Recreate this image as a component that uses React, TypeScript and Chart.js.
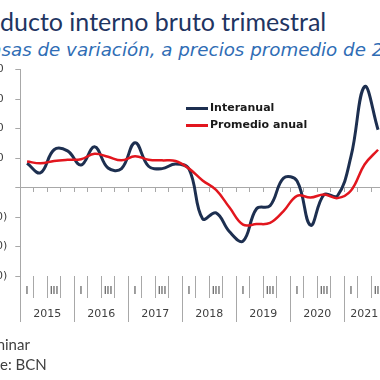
import React, { useEffect, useRef } from "react";
import { Chart, registerables } from "chart.js";

Chart.register(...registerables);

// ---- data ----
const CATEGORIES = [
  "2015-I", "2015-II", "2015-III", "2015-IV",
  "2016-I", "2016-II", "2016-III", "2016-IV",
  "2017-I", "2017-II", "2017-III", "2017-IV",
  "2018-I", "2018-II", "2018-III", "2018-IV",
  "2019-I", "2019-II", "2019-III", "2019-IV",
  "2020-I", "2020-II", "2020-III", "2020-IV",
  "2021-I", "2021-II", "2021-III",
];

const INTERANUAL = [
  4.1, 2.5, 6.4, 6.2,
  3.8, 6.9, 3.3, 3.2,
  7.6, 3.6, 3.2, 4.0,
  3.1, -5.3, -4.3, -7.5,
  -9.1, -3.6, -3.1, 1.6,
  1.1, -6.4, -1.2, -1.4,
  5.3, 17.1, 9.8,
];

const PROMEDIO_ANUAL = [
  4.4, 4.1, 4.5, 4.7,
  4.8, 5.7, 5.2, 4.6,
  5.3, 4.7, 4.6, 4.5,
  3.2, 1.2, -0.4, -3.4,
  -6.3, -6.2, -6.0, -4.0,
  -1.4, -1.7, -1.2, -1.8,
  -0.5, 3.9, 6.4,
];

const SHOWN_QUARTERS = ["I", "III"];
const Y_MIN = -15;
const Y_MAX = 20;
const Y_STEP = 5;

// ---- styles ----
const NAVY = "#1D2F50";
const RED = "#E2161E";
const GRAY = "#A8A8A8";
const TITLE_COLOR = "#1F3562";
const SUBTITLE_COLOR = "#2F6DB5";
const TEXT_COLOR = "#404040";

const QUARTER_LABELS = CATEGORIES.map((c) => {
  const q = c.split("-")[1];
  return SHOWN_QUARTERS.includes(q) ? q : "";
});
// year label sits on the 2nd quarter; the axis shifts it half a quarter right
// (centre of a 4-quarter year); a year with 3 quarters gets trailing spaces to
// pull it back onto its centre quarter.
const YEAR_LABELS = CATEGORIES.map((c) => {
  const [y, q] = c.split("-");
  if (q !== "II") return "";
  const count = CATEGORIES.filter((k) => k.startsWith(y)).length;
  return count === 4 ? y : y + "    ";
});

export default function App() {
  const ref = useRef<HTMLCanvasElement | null>(null);

  useEffect(() => {
    if (!ref.current) return;
    const tickFont = { family: "'DejaVu Sans'", size: 11 };
    const chart = new Chart(ref.current, {
      type: "line",
      data: {
        labels: CATEGORIES,
        datasets: [
          {
            label: "Interanual",
            data: INTERANUAL,
            borderColor: NAVY,
            backgroundColor: NAVY,
            borderWidth: 3,
            pointRadius: 0,
            tension: 0.4,
            fill: false,
            order: 1,
          },
          {
            label: "Promedio anual",
            data: PROMEDIO_ANUAL,
            borderColor: RED,
            backgroundColor: RED,
            borderWidth: 2.5,
            pointRadius: 0,
            tension: 0.4,
            fill: false,
            order: 0,
          },
        ],
      },
      options: {
        animation: false,
        responsive: false,
        maintainAspectRatio: false,
        layout: { padding: { left: 0, right: 35.2, top: 69.5, bottom: 58 } },
        plugins: { legend: { display: false }, tooltip: { enabled: false } },
        scales: {
          y: {
            min: Y_MIN,
            max: Y_MAX,
            ticks: {
              stepSize: Y_STEP,
              padding: 8,
              color: TEXT_COLOR,
              font: tickFont,
              callback: (v: any) => {
                const n = Number(v);
                if (n === 0) return "";
                return n < 0 ? `(${(-n).toFixed(1)})` : `${n.toFixed(1)} `;
              },
            },
            grid: { drawOnChartArea: false, tickLength: 5, color: GRAY },
            border: { color: GRAY },
            afterFit: (s: any) => {
              s.width = 50.3;
            },
          },
          x: {
            type: "category",
            position: { y: 0 } as any,
            offset: true,
            ticks: { display: false },
            grid: {
              offset: true,
              drawOnChartArea: false,
              tickLength: 4,
              color: GRAY,
            },
            border: { color: GRAY },
          },
          x2: {
            type: "category",
            position: "bottom",
            weight: 0,
            labels: QUARTER_LABELS,
            offset: true,
            ticks: {
              autoSkip: false,
              maxRotation: 0,
              padding: -13,
              color: TEXT_COLOR,
              font: { family: "'DejaVu Sans'", size: 10 },
            },
            grid: {
              offset: true,
              drawOnChartArea: false,
              tickLength: 22,
              color: GRAY,
            },
            border: { display: false },
            afterFit: (s: any) => {
              s.height = 22;
            },
          },
          x3: {
            type: "category",
            position: "bottom",
            weight: 1,
            labels: YEAR_LABELS,
            offset: true,
            ticks: {
              autoSkip: false,
              maxRotation: 0,
              padding: -14.5,
              labelOffset: 6.75,
              color: TEXT_COLOR,
              font: tickFont,
            },
            grid: {
              offset: true,
              drawOnChartArea: false,
              tickLength: 24,
              color: (ctx: any) => (ctx.index % 4 === 0 ? GRAY : "rgba(0,0,0,0)"),
            },
            border: { display: false },
            afterFit: (s: any) => {
              s.height = 24;
            },
          },
        } as any,
      },
    });
    return () => chart.destroy();
  }, []);

  const legendText: React.CSSProperties = {
    position: "absolute",
    left: 210,
    font: "bold 11px 'DejaVu Sans'",
    lineHeight: "14px",
    color: "#1a1a1a",
    whiteSpace: "nowrap",
  };
  const hidden: React.CSSProperties = { position: "absolute", right: "100%", top: 0 };

  return (
    <div
      style={{
        position: "fixed",
        left: 0,
        top: 0,
        width: 380,
        height: 380,
        overflow: "hidden",
        background: "#fff",
      }}
    >
      <div
        style={{
          position: "absolute",
          left: 0,
          top: 9,
          font: "25px Lato",
          lineHeight: "25px",
          color: TITLE_COLOR,
          whiteSpace: "nowrap",
        }}
      >
        <span style={hidden}>Pro</span>ducto interno bruto trimestral
      </div>
      <div
        style={{
          position: "absolute",
          left: 1.5,
          top: 41,
          font: "italic 18.25px 'DejaVu Sans'",
          lineHeight: "18.6px",
          color: SUBTITLE_COLOR,
          whiteSpace: "nowrap",
        }}
      >
        <span style={hidden}>Ta</span>sas de variación, a precios promedio de 2006
      </div>
      <canvas
        ref={ref}
        width={450}
        height={380}
        style={{ position: "absolute", left: -30, top: 0 }}
      />
      <div style={{ position: "absolute", left: 186, top: 106.5, width: 22, height: 3, background: NAVY }} />
      <div style={{ ...legendText, top: 101 }}>Interanual</div>
      <div style={{ position: "absolute", left: 186, top: 123.5, width: 22, height: 3, background: RED }} />
      <div style={{ ...legendText, top: 118 }}>Promedio anual</div>
      <div
        style={{
          position: "absolute",
          left: 5,
          top: 336.7,
          font: "15px Lato",
          lineHeight: "15px",
          color: TEXT_COLOR,
          whiteSpace: "nowrap",
        }}
      >
        <span style={hidden}>Prelim</span>inar
      </div>
      <div
        style={{
          position: "absolute",
          left: 0,
          top: 356.7,
          font: "15px Lato",
          lineHeight: "15px",
          color: TEXT_COLOR,
          whiteSpace: "nowrap",
        }}
      >
        <span style={hidden}>Fuent</span>e: BCN
      </div>
    </div>
  );
}
